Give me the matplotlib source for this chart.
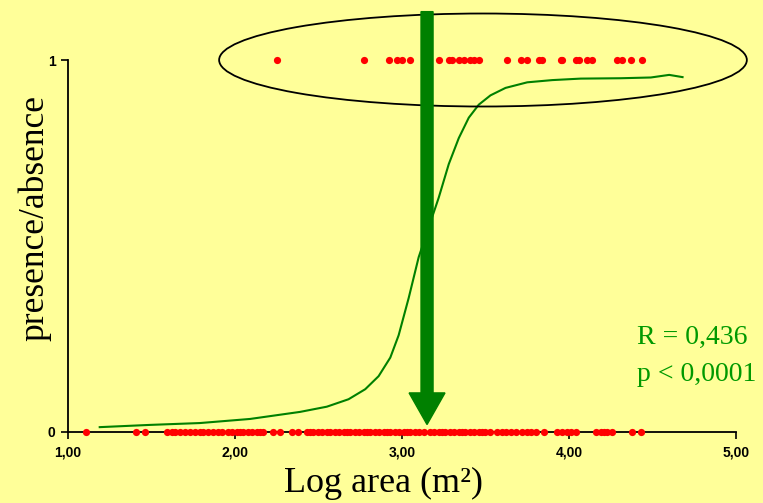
import matplotlib
matplotlib.use("Agg")
import matplotlib.pyplot as plt
from matplotlib.patches import Ellipse, FancyArrow

# presence (y = 1) log-area values
present_x = [2.25, 2.77, 2.92, 2.97, 3.00, 3.05, 3.22, 3.28, 3.30, 3.34, 3.37, 3.41,
             3.43, 3.46, 3.63, 3.71, 3.75, 3.82, 3.84, 3.95, 3.96, 4.04, 4.06, 4.11,
             4.14, 4.29, 4.32, 4.37, 4.44]
# absence (y = 0) log-area values
absent_x = [1.11, 1.41, 1.46, 1.59, 1.62, 1.64, 1.67, 1.70, 1.73, 1.76, 1.79, 1.81,
            1.84, 1.87, 1.90, 1.92, 1.96, 1.98, 2.01, 2.03, 2.05, 2.08, 2.10, 2.13,
            2.15, 2.17, 2.23, 2.27, 2.34, 2.38, 2.43, 2.45, 2.47, 2.50, 2.52, 2.55,
            2.57, 2.60, 2.62, 2.65, 2.67, 2.69, 2.72, 2.74, 2.77, 2.79, 2.81, 2.84,
            2.86, 2.89, 2.91, 2.93, 2.96, 2.98, 3.01, 3.03, 3.05, 3.08, 3.10, 3.13,
            3.17, 3.19, 3.22, 3.24, 3.26, 3.29, 3.31, 3.34, 3.36, 3.38, 3.41, 3.43,
            3.46, 3.48, 3.50, 3.53, 3.57, 3.60, 3.62, 3.65, 3.68, 3.72, 3.75, 3.77,
            3.80, 3.85, 3.93, 3.96, 3.99, 4.01, 4.04, 4.16, 4.19, 4.21, 4.23, 4.26,
            4.38, 4.43]
# fitted curve
curve_x = [1.19, 1.49, 1.79, 2.09, 2.39, 2.55, 2.68, 2.78, 2.86, 2.93, 2.98, 3.04,
           3.10, 3.16, 3.22, 3.28, 3.34, 3.40, 3.46, 3.53, 3.62, 3.75, 3.90, 4.07,
           4.31, 4.49, 4.60, 4.68]
curve_y = [0.013, 0.019, 0.024, 0.035, 0.054, 0.068, 0.088, 0.115, 0.15, 0.2, 0.26,
           0.36, 0.47, 0.55, 0.63, 0.72, 0.79, 0.845, 0.88, 0.905, 0.925, 0.940,
           0.946, 0.950, 0.951, 0.953, 0.960, 0.954]
x_ticks = [1, 2, 3, 4, 5]
x_tick_labels = ["1,00", "2,00", "3,00", "4,00", "5,00"]
y_ticks = [0, 1]
y_tick_labels = ["0", "1"]

BG = "#FFFF99"
GREEN = "#008000"

fig = plt.figure(figsize=(7.63, 5.03), dpi=100, facecolor=BG)
ax = fig.add_axes([0.0891, 0.1412, 0.8755, 0.7395], facecolor=BG)
ax.set_xlim(1, 5)
ax.set_ylim(0, 1)

ax.plot(curve_x, curve_y, color=GREEN, lw=1.5, zorder=2, clip_on=False,
        solid_joinstyle="round")
ax.plot(absent_x, [0] * len(absent_x), 'o', color="#FF0000", ms=5.2, mew=0,
        zorder=4, clip_on=False)
ax.plot(present_x, [1] * len(present_x), 'o', color="#FF0000", ms=5.2, mew=0,
        zorder=4, clip_on=False)

# ellipse around presences
ell = Ellipse((3.485, 1.0), 3.16, 0.25, fill=False, edgecolor="black", lw=1.3,
              zorder=5, clip_on=False)
ax.add_patch(ell)

# big arrow
arr = FancyArrow(3.15, 1.13, 0, -1.11, width=0.072, head_width=0.215,
                 head_length=0.085, length_includes_head=True, color=GREEN,
                 zorder=6, clip_on=False)
ax.add_patch(arr)

for s in ["top", "right"]:
    ax.spines[s].set_visible(False)
ax.spines["left"].set_linewidth(1.3)
ax.spines["bottom"].set_linewidth(1.3)
ax.set_xticks(x_ticks)
ax.set_xticklabels(x_tick_labels, fontfamily="Liberation Sans", fontweight="bold",
                   fontsize=10)
ax.set_yticks(y_ticks)
ax.set_yticklabels(y_tick_labels, fontfamily="Liberation Sans", fontweight="bold",
                   fontsize=10)
ax.tick_params(axis="x", direction="out", length=5, width=1.2, pad=5)
ax.tick_params(axis="y", direction="out", length=5, width=1.2, pad=4)

fig.text(0.046, 0.567, "presence/absence", rotation=90, ha="center", va="center",
         fontfamily="Liberation Serif", fontsize=25.5)
fig.text(0.502, 0.038, "Log area (m²)", ha="center", va="center",
         fontfamily="Liberation Serif", fontsize=26)
ax.text(0.835, 0.330, "R = 0,436", transform=fig.transFigure, ha="left",
        va="center", fontfamily="Liberation Serif", fontsize=20, color="#009900")
ax.text(0.835, 0.255, "p < 0,0001", transform=fig.transFigure, ha="left",
        va="center", fontfamily="Liberation Serif", fontsize=20, color="#009900")

fig.savefig("out.png", dpi=100, facecolor=BG)
